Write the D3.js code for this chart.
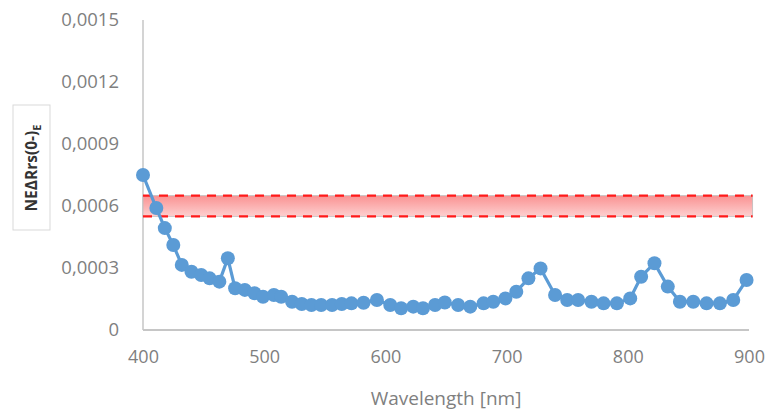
<!DOCTYPE html>
<html>
<head>
<meta charset="utf-8">
<script src="https://cdn.jsdelivr.net/npm/d3@7"></script>
<style>
  html, body { margin: 0; padding: 0; background: #fff; }
  svg { display: block; }
</style>
</head>
<body>
<svg id="chart" width="769" height="411"></svg>
<script>
// Spectral noise-equivalent reflectance difference
const wavelengths = [400, 411, 418, 425, 432, 440, 448, 455, 463, 470, 476, 484, 492, 499, 508, 514,
  523, 531, 539, 547, 556, 564, 572, 582, 593, 604, 613, 623, 631, 641, 649, 660, 670, 681, 689,
  699, 708, 718, 728, 740, 750, 759, 770, 780, 791, 802, 811, 822, 833, 843, 854, 865, 876, 887, 898];
const neValues = [0.00075, 0.00059, 0.000493, 0.000411, 0.000315, 0.000282, 0.000266, 0.00025, 0.000234,
  0.000347, 0.000202, 0.000194, 0.000178, 0.000161, 0.000169, 0.000161, 0.000137, 0.000126, 0.000121,
  0.000121, 0.000121, 0.000126, 0.000129, 0.000132, 0.000145, 0.000121, 0.000105, 0.000113, 0.000105,
  0.000121, 0.000133, 0.000121, 0.000113, 0.000129, 0.000137, 0.000153, 0.000185, 0.00025, 0.000298,
  0.000169, 0.000145, 0.000145, 0.000137, 0.000129, 0.000129, 0.000153, 0.000258, 0.000323, 0.00021,
  0.000137, 0.000137, 0.000129, 0.000129, 0.000145, 0.000242];
// Requirement band (lower / upper) and its wavelength extent
const bandLimits = [0.00055, 0.00065];
const bandRange = [400, 903];
const xTicks = [400, 500, 600, 700, 800, 900];
const yTicks = [0, 0.0003, 0.0006, 0.0009, 0.0012, 0.0015];

const svg = d3.select("#chart");
const x = d3.scaleLinear().domain([400, 900]).range([143, 749]);
const y = d3.scaleLinear().domain([0, 0.0015]).range([330, 20]);

const locale = d3.formatLocale({ decimal: ",", thousands: ".", grouping: [3], currency: ["", ""] });
const fmt = locale.format(".4f");

// Band gradient
const defs = svg.append("defs");
const grad = defs.append("linearGradient").attr("id", "bandFill")
  .attr("x1", 0).attr("y1", 0).attr("x2", 0).attr("y2", 1);
grad.append("stop").attr("offset", "0%").attr("stop-color", "#fa9292");
grad.append("stop").attr("offset", "100%").attr("stop-color", "#fdcfcf");

// Axes lines
svg.append("line").attr("x1", x(400)).attr("x2", x(400)).attr("y1", y(0.0015)).attr("y2", y(0))
  .attr("stroke", "#c6c6c6").attr("stroke-width", 1.5);
svg.append("line").attr("x1", x(400)).attr("x2", x(900)).attr("y1", y(0)).attr("y2", y(0))
  .attr("stroke", "#c6c6c6").attr("stroke-width", 2);

// Y tick labels
const yAxis = d3.axisLeft(y).tickValues(yTicks).tickSize(0).tickPadding(0)
  .tickFormat(d => d === 0 ? "0" : fmt(d));
svg.append("g").attr("transform", "translate(119,0)").call(yAxis)
  .call(g => g.select(".domain").remove())
  .selectAll("text").attr("font-family", "Open Sans").attr("font-size", 18.5).attr("fill", "#7f7f7f");

// X tick labels
const xAxis = d3.axisBottom(x).tickValues(xTicks).tickSize(0).tickPadding(0).tickFormat(d3.format("d"));
svg.append("g").attr("transform", "translate(0,350)").call(xAxis)
  .call(g => g.select(".domain").remove())
  .selectAll("text").attr("font-family", "Open Sans").attr("font-size", 18).attr("fill", "#7f7f7f");

// X axis title
svg.append("text").attr("x", 446).attr("y", 405).attr("text-anchor", "middle")
  .attr("font-family", "Open Sans").attr("font-size", 19).attr("fill", "#7f7f7f")
  .text("Wavelength [nm]");

// Y axis title in a box
svg.append("rect").attr("x", 13).attr("y", 105).attr("width", 37).attr("height", 125)
  .attr("fill", "#fff").attr("stroke", "#d9d9d9").attr("stroke-width", 1);
const yt = svg.append("text").attr("transform", "translate(37,168) rotate(-90)")
  .attr("text-anchor", "middle").attr("font-family", "Open Sans").attr("font-weight", "bold")
  .attr("font-size", 15.5).attr("fill", "#333333");
yt.append("tspan").text("NE\u0394Rrs(0-)");
yt.append("tspan").attr("font-size", 11).attr("dy", 4).text("E");

// Band
const band = svg.append("g");
band.append("rect")
  .attr("x", x(bandRange[0])).attr("width", x(bandRange[1]) - x(bandRange[0]))
  .attr("y", y(bandLimits[1])).attr("height", y(bandLimits[0]) - y(bandLimits[1]))
  .attr("fill", "url(#bandFill)").attr("stroke", "#bdbdbd").attr("stroke-width", 0.8);
bandLimits.forEach(v => {
  band.append("line").attr("x1", x(bandRange[0])).attr("x2", x(bandRange[1]))
    .attr("y1", y(v)).attr("y2", y(v))
    .attr("stroke", "#ff1a1a").attr("stroke-width", 2.2).attr("stroke-dasharray", "9,7");
});

// Series line and markers
const pts = wavelengths.map((w, i) => [w, neValues[i]]);
const line = d3.line().x(d => x(d[0])).y(d => y(d[1]));
svg.append("path").datum(pts).attr("d", line).attr("fill", "none")
  .attr("stroke", "#5b9bd5").attr("stroke-width", 3.2).attr("stroke-linejoin", "round");
svg.append("g").selectAll("circle").data(pts).join("circle")
  .attr("cx", d => x(d[0])).attr("cy", d => y(d[1])).attr("r", 7)
  .attr("fill", "#5b9bd5");
</script>
</body>
</html>
